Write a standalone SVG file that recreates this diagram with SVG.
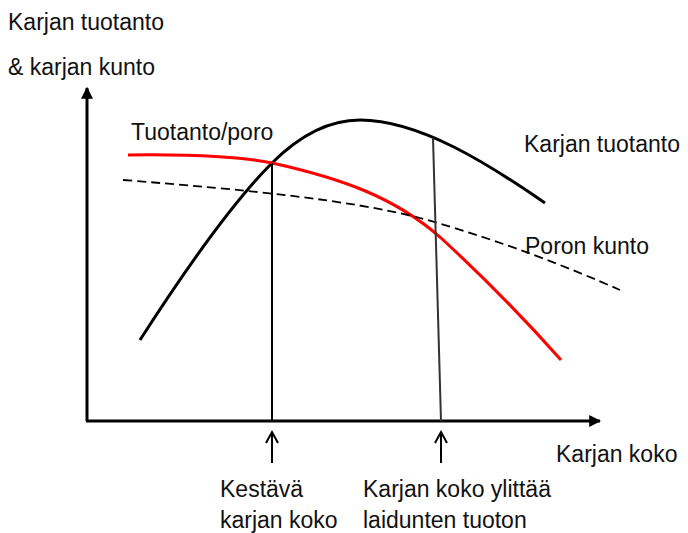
<svg xmlns="http://www.w3.org/2000/svg" width="688" height="533" viewBox="0 0 688 533">
<style>
text{font-family:"Liberation Sans",Arial,sans-serif;font-size:23px;fill:#111}
.ax{stroke:#000;stroke-width:3;fill:none}
.curve{fill:none;stroke-width:3;stroke-linecap:butt}
.up{stroke:#000;stroke-width:2;fill:none}
</style>
<defs>
<marker id="tri" viewBox="0 0 10 10" refX="9" refY="5" markerWidth="4" markerHeight="4" orient="auto" markerUnits="strokeWidth">
<path d="M0,0 L10,5 L0,10 z" fill="#000"/>
</marker>
</defs>
<g id="axes">
<line class="ax" x1="87" y1="421" x2="87" y2="88" marker-end="url(#tri)"/>
<line class="ax" x1="86" y1="421" x2="600" y2="421" marker-end="url(#tri)"/>
</g>
<g id="curves">
<path id="karjan-tuotanto-curve" class="curve" stroke="#000" d="M140,340 C185,270 235,200 272,163 C300,135 330,120 360,120 C420,120 490,165 545,203"/>
<path id="tuotanto-poro-curve" class="curve" stroke="#f00" d="M128,155 C200,154 250,158 272,163 C340,178 395,197 441,238 C490,283 530,325 561,360"/>
<path id="poron-kunto-curve" fill="none" stroke="#000" stroke-width="1.8" stroke-dasharray="9,5" d="M123,180 C250,190 350,200 420,218 C500,240 570,268 620,290"/>
</g>
<g id="connectors">
<line x1="272" y1="163" x2="272" y2="421" stroke="#000" stroke-width="2"/>
<line x1="433" y1="138" x2="441" y2="421" stroke="#333" stroke-width="2"/>
<path class="up" d="M272,463 V433 M266,443 L272,432 L278,443"/>
<path class="up" d="M441,463 V433 M435,443 L441,432 L447,443"/>
</g>
<g id="labels">
<text x="8" y="30">Karjan tuotanto</text>
<text x="8" y="75">&amp; karjan kunto</text>
<text x="131" y="140">Tuotanto/poro</text>
<text x="524" y="152">Karjan tuotanto</text>
<text x="525" y="254">Poron kunto</text>
<text x="556" y="462">Karjan koko</text>
<text x="220" y="497">Kestävä</text>
<text x="220" y="528">karjan koko</text>
<text x="363" y="497">Karjan koko ylittää</text>
<text x="363" y="528">laidunten tuoton</text>
</g>
</svg>
